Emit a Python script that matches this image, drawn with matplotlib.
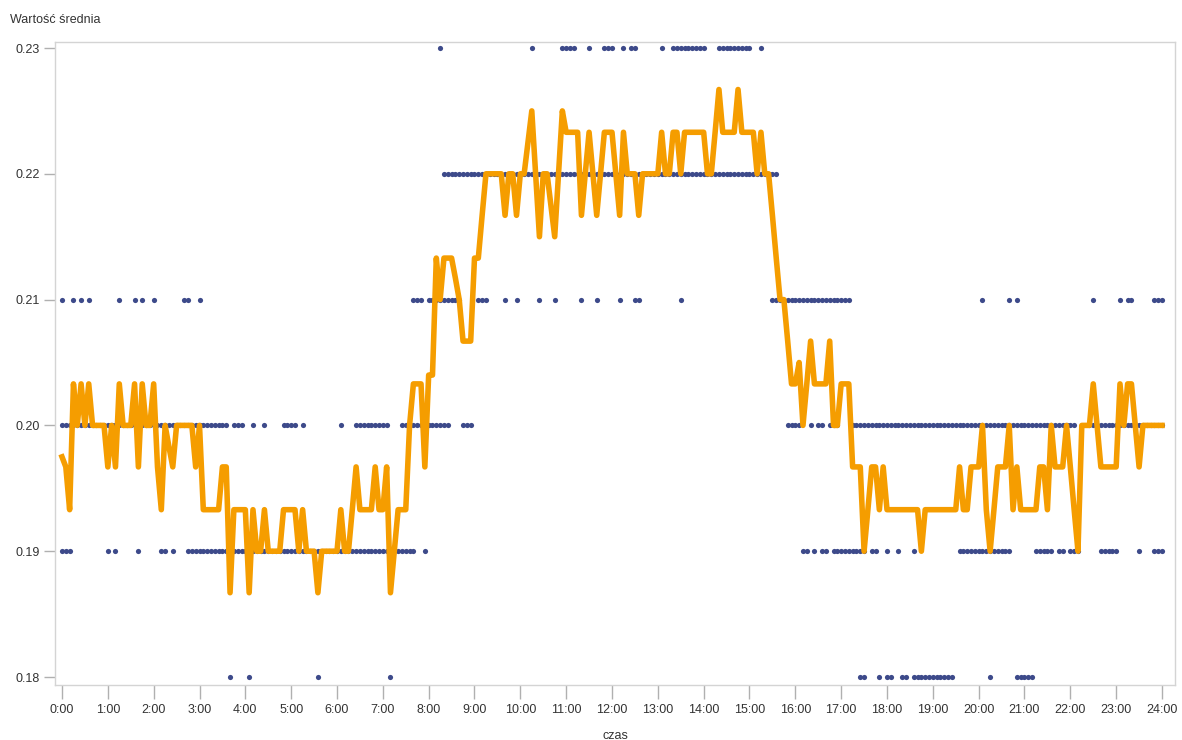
import numpy as np
import matplotlib
matplotlib.use("Agg")
import matplotlib.pyplot as plt

plt.rcParams['font.family'] = ['Liberation Sans', 'DejaVu Sans']

# pomiar co 5 minut, 0:00 - 24:00
minuty = np.arange(289) * 5
czas = minuty / 60.0

# srednia (linia)
srednia = [
    .1975, .1967, .1933, .2033, .2, .2033, .2, .2033, .2, .2, .2, .2,
    .1967, .2, .1967, .2033, .2, .2, .2, .2033, .1967, .2033, .2, .2,
    .2033, .1967, .1933, .2, .1983, .1967, .2, .2, .2, .2, .2, .1967,
    .2, .1933, .1933, .1933, .1933, .1933, .1967, .1967, .1867, .1933, .1933, .1933,
    .1933, .1867, .1933, .19, .19, .1933, .19, .19, .19, .19, .1933, .1933,
    .1933, .1933, .19, .1933, .19, .19, .19, .1867, .19, .19, .19, .19,
    .19, .1933, .19, .19, .1933, .1967, .1933, .1933, .1933, .1933, .1967, .1933,
    .1933, .1967, .1867, .19, .1933, .1933, .1933, .2, .2033, .2033, .2033, .1967,
    .204, .204, .2133, .21, .2133, .2133, .2133, .2117, .21, .2067, .2067, .2067,
    .2133, .2133, .2167, .22, .22, .22, .22, .22, .2167, .22, .22, .2167,
    .22, .22, .2225, .225, .22, .215, .22, .22, .2175, .215, .22, .225,
    .2233, .2233, .2233, .2233, .2167, .22, .2233, .22, .2167, .22, .2233, .2233,
    .2233, .22, .2167, .2233, .22, .22, .22, .2167, .22, .22, .22, .22,
    .22, .2233, .22, .22, .2233, .2233, .22, .2233, .2233, .2233, .2233, .2233,
    .2233, .22, .22, .2233, .2267, .2233, .2233, .2233, .2233, .2267, .2233, .2233,
    .2233, .2233, .22, .2233, .22, .22, .2167, .2133, .21, .21, .2067, .2033,
    .2033, .205, .2, .2033, .2067, .2033, .2033, .2033, .2033, .2067, .2, .2,
    .2033, .2033, .2033, .1967, .1967, .1967, .19, .1933, .1967, .1967, .1933, .1967,
    .1933, .1933, .1933, .1933, .1933, .1933, .1933, .1933, .1933, .19, .1933, .1933,
    .1933, .1933, .1933, .1933, .1933, .1933, .1933, .1967, .1933, .1933, .1967, .1967,
    .1967, .2, .1933, .19, .1933, .1967, .1967, .1967, .2, .1933, .1967, .1933,
    .1933, .1933, .1933, .1933, .1967, .1967, .1933, .2, .1967, .1967, .1967, .2,
    .1967, .1933, .19, .2, .2, .2, .2033, .2, .1967, .1967, .1967, .1967,
    .1967, .2033, .2, .2033, .2033, .2, .1967, .2, .2, .2, .2, .2,
    .2,
]

# pojedyncze pomiary - numery 5-minutowych przedzialow dla kazdej wartosci
def zakres(a, b):
    return list(range(a, b + 1))

pkt_023 = [99, 123, 131, 132, 133, 134, 138, 142, 143, 144, 147, 149, 150, 157] \
    + zakres(160, 168) + zakres(172, 180) + [183]
pkt_022 = zakres(100, 187)
pkt_021 = [0, 3, 5, 7, 15, 19, 21, 24, 32, 33, 36, 92, 93, 94] + zakres(96, 104) \
    + [109, 110, 111, 116, 119, 125, 129, 136, 140, 146, 150, 151, 162] \
    + zakres(186, 206) + [241, 248, 250, 270, 277, 279, 280, 286, 287, 288]
pkt_020 = zakres(0, 43) + [45, 46, 47, 50, 53, 58, 59, 60, 61, 63, 73] \
    + zakres(77, 85) + zakres(89, 101) + [105, 106, 107] \
    + [190, 191, 192, 193, 196, 198, 199, 201, 202, 203] \
    + zakres(207, 265) + zakres(269, 288)
pkt_019 = [0, 1, 2, 12, 14, 20, 26, 27, 29] + zakres(33, 92) + [95] \
    + [194, 195, 197, 199, 200] + zakres(202, 210) + [212, 213, 216, 219, 223] \
    + zakres(235, 248) + zakres(255, 259) + [261, 262, 264, 265, 266] \
    + zakres(272, 276) + [282, 286, 287, 288]
pkt_018 = [44, 49, 67, 86, 209, 210, 214, 216, 217, 220, 221] + zakres(223, 233) \
    + [243, 250, 251, 252, 253, 254]

poziomy = [0.23, 0.22, 0.21, 0.20, 0.19, 0.18]
punkty = [pkt_023, pkt_022, pkt_021, pkt_020, pkt_019, pkt_018]

fig = plt.figure(figsize=(11.82, 7.40), dpi=100)
ax = fig.add_axes([55 / 1182, 1 - 685 / 740, 1120 / 1182, 643 / 740])

for p, idx in zip(poziomy, punkty):
    idx = np.array(idx)
    ax.scatter(czas[idx], np.full(len(idx), p), s=14, color='#3d4a8a',
               linewidths=0, zorder=2)

ax.plot(czas, srednia, color='#f59d00', lw=4.0, zorder=3)

ax.set_xlim(-7 / 45.83, 24 + 13 / 45.83)
ax.set_ylim(0.18 - 8 / 12580, 0.23 + 6 / 12580)

ax.set_xticks(range(25))
ax.set_xticklabels([f"{h}:00" for h in range(25)])
ax.set_yticks(poziomy)
ax.set_yticklabels([f"{p:.2f}" for p in poziomy])

for s in ax.spines.values():
    s.set_color('#d4d4d4')
    s.set_linewidth(1)
ax.tick_params(axis='x', length=10, width=1, color='#b0b0b0', labelsize=9,
               labelcolor='#333333', pad=4)
ax.tick_params(axis='y', length=8, width=1, color='#b0b0b0', labelsize=9,
               labelcolor='#333333', pad=3)

ax.set_xlabel("czas", fontsize=9, color='#333333', labelpad=10)
fig.text(10 / 1182, 1 - 20 / 740, "Wartość średnia", fontsize=9, color='#333333',
         va='center', ha='left')

plt.savefig("out.png", dpi=100)
